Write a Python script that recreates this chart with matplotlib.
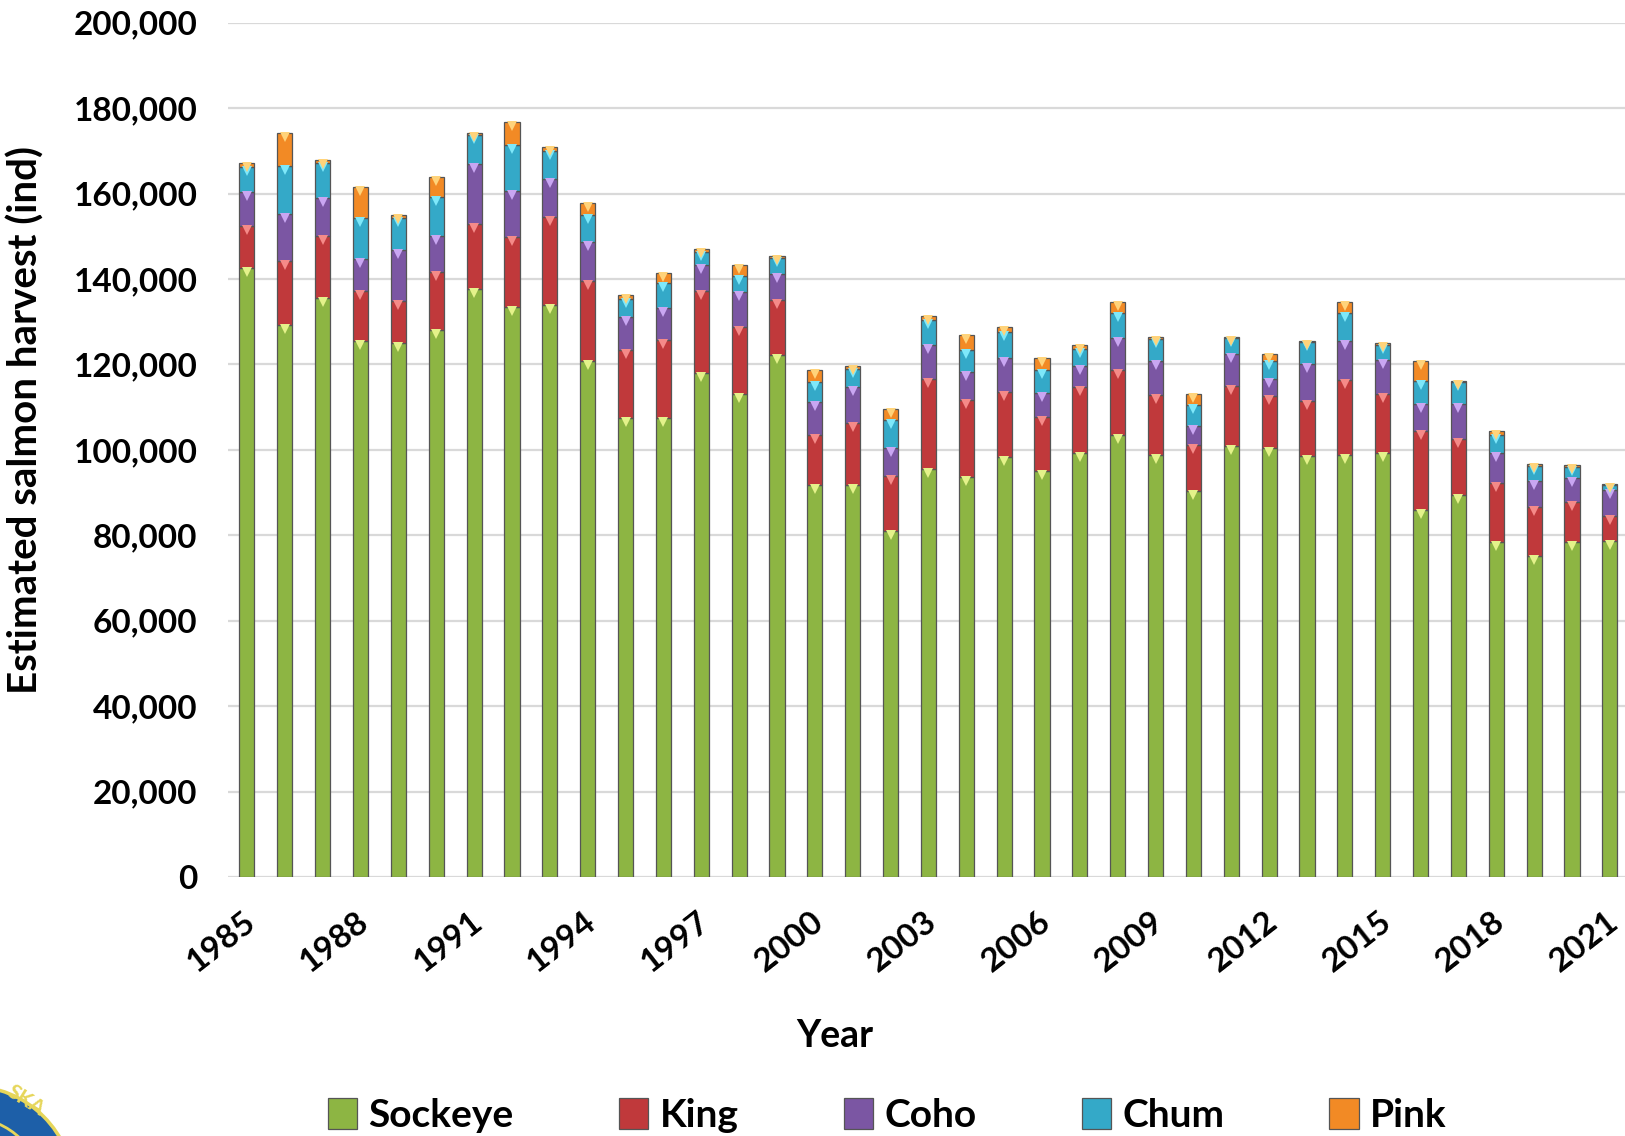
import matplotlib.pyplot as plt
import numpy as np
from matplotlib.patches import Circle
from matplotlib.transforms import offset_copy, ScaledTranslation

plt.rcParams['font.family'] = ['Lato', 'DejaVu Sans']
plt.rcParams['font.weight'] = 'bold'

# Estimated harvest by species (thousands of fish)
years = list(range(1985, 2022))
sockeye = [142.5, 129.2, 135.6, 125.6, 125.1, 128.1, 137.7, 133.4, 133.9, 120.8,
           107.5, 107.4, 118.0, 113.1, 122.1, 91.8, 91.8, 81.0, 95.6, 93.6,
           98.4, 95.1, 99.3, 103.5, 98.8, 90.4, 100.9, 100.4, 98.6, 98.8,
           99.2, 85.9, 89.5, 78.5, 75.2, 78.5, 78.7]
king = [9.8, 15.0, 14.5, 11.6, 9.8, 13.6, 15.2, 16.5, 20.5, 18.7,
        15.9, 18.4, 19.1, 15.6, 12.9, 11.6, 14.6, 12.8, 21.0, 18.0,
        15.2, 12.6, 15.5, 15.1, 14.1, 10.7, 14.1, 12.2, 12.9, 17.6,
        13.9, 18.6, 13.1, 13.7, 11.4, 9.3, 5.7]
coho = [8.1, 11.1, 8.9, 7.5, 12.0, 8.4, 14.1, 10.8, 9.1, 9.2,
        7.6, 7.4, 6.2, 8.2, 6.2, 7.9, 8.2, 6.6, 8.0, 6.7,
        7.9, 5.6, 4.9, 7.6, 7.9, 4.5, 7.5, 4.0, 8.6, 9.0,
        7.9, 6.3, 8.1, 7.0, 6.2, 5.6, 6.2]
chum = [5.8, 11.2, 8.2, 9.5, 7.3, 9.2, 6.7, 10.6, 6.4, 6.2,
        4.3, 5.8, 3.0, 3.8, 3.8, 4.7, 4.3, 6.6, 5.8, 5.1,
        6.1, 5.4, 4.0, 5.8, 5.1, 4.8, 3.7, 4.2, 5.2, 6.6,
        3.5, 5.4, 5.1, 4.2, 3.5, 2.5, 1.2]
pink = [1.0, 7.7, 0.7, 7.3, 0.7, 4.5, 0.5, 5.5, 0.9, 2.8,
        0.9, 2.4, 0.7, 2.6, 0.4, 2.7, 0.8, 2.5, 1.0, 3.5,
        1.1, 2.8, 0.8, 2.7, 0.5, 2.7, 0.3, 1.7, 0.3, 2.7,
        0.5, 4.7, 0.4, 1.0, 0.4, 0.5, 0.2]

species = ['Sockeye', 'King', 'Coho', 'Chum', 'Pink']
series = [sockeye, king, coho, chum, pink]
colors = ['#8db543', '#c0393b', '#7b56a3', '#34a9c8', '#f28a25']
highlights = ['#e4f28a', '#f58a88', '#c9a6f2', '#7ee8fa', '#ffd37a']

fig = plt.figure(figsize=(16.25, 11.36), dpi=100)
ax = fig.add_axes([0.1403, 0.228, 0.8597, 0.752])

x = np.arange(len(years))
bottom = np.zeros(len(years))
tri_trans = offset_copy(ax.transData, fig=fig, y=-4, units='dots')
for name, vals, col, hl in zip(species, series, colors, highlights):
    v = np.array(vals) * 1000
    ax.bar(x, v, bottom=bottom, width=0.4, color=col, edgecolor='#555555',
           linewidth=0.9, label=name, zorder=3)
    top = bottom + v
    ax.plot(x, top, linestyle='none', marker='v', markersize=7, color=hl,
            markeredgewidth=0, transform=tri_trans, zorder=4)
    bottom = top

ax.set_ylim(0, 200000)
ax.set_xlim(-0.5, 36.4)
ax.set_yticks(np.arange(0, 200001, 20000))
ax.yaxis.set_major_formatter(plt.FuncFormatter(lambda v, p: f'{int(v):,}'))
ax.set_xticks(x[::3])
ax.set_xticklabels([str(y) for y in years[::3]], rotation=38, ha='right',
                   rotation_mode='anchor')
ax.tick_params(axis='x', length=0, pad=21, labelsize=24)
ax.tick_params(axis='y', length=0, pad=22, labelsize=24)
shift = ScaledTranslation(-3 / 72, 0, fig.dpi_scale_trans)
for lbl in ax.get_xticklabels():
    lbl.set_fontweight('bold')
    lbl.set_transform(lbl.get_transform() + shift)
for lbl in ax.get_yticklabels():
    lbl.set_fontweight('bold')

ax.grid(axis='y', color='#d9d9d9', linewidth=1.6, zorder=0)
for s in ax.spines.values():
    s.set_visible(False)

ax.set_ylabel('Estimated salmon harvest (ind)', fontsize=29, fontweight='bold')
ax.yaxis.set_label_coords(-0.131, 0.535)
fig.text(0.514, 0.088, 'Year', fontsize=27, fontweight='bold',
         ha='center', va='center')

fig.legend(loc='center', bbox_to_anchor=(0.546, 0.018), ncol=5, frameon=False,
           handlelength=0.75, handleheight=0.85, handletextpad=0.3,
           columnspacing=2.7, prop={'weight': 'bold', 'size': 28})

# partial agency seal in the bottom-left corner
seal = Circle((-0.30, -0.54), 1.04, transform=fig.dpi_scale_trans,
              facecolor='#1d5fa8', edgecolor='#e6d65a', linewidth=2.5, zorder=0)
fig.add_artist(seal)
ring = Circle((-0.30, -0.54), 0.72, transform=fig.dpi_scale_trans,
              facecolor='none', edgecolor='#e6d65a', linewidth=2, zorder=1)
fig.add_artist(ring)
fig.text(0.002, 0.018, 'SKA', color='#e6d65a', fontsize=15, rotation=-32,
         fontweight='bold')

fig.savefig('out.png', dpi=100)
